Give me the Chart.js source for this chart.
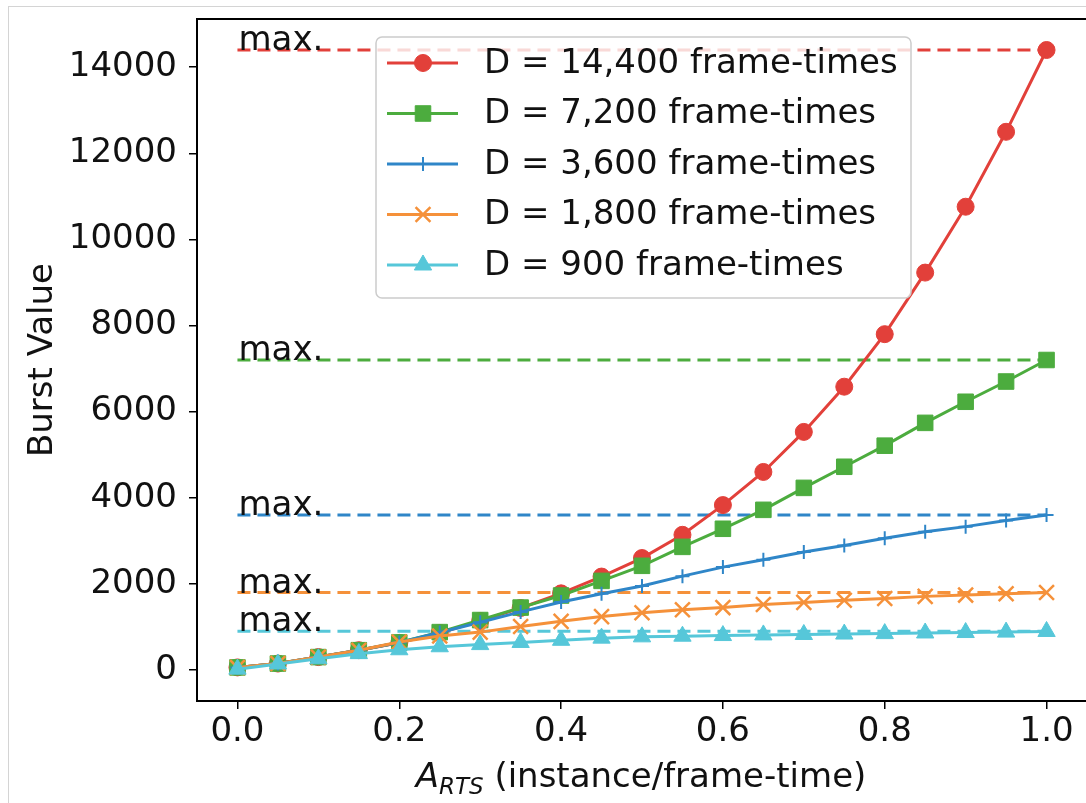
<!DOCTYPE html>
<html>
<head>
<meta charset="utf-8">
<script src="https://cdn.jsdelivr.net/npm/chart.js@4.4.0/dist/chart.umd.min.js"></script>
<style>
  html, body { margin: 0; padding: 0; background: #fff; overflow: hidden; }
  #frame { position: absolute; left: 8px; top: 6px; width: 1100px; height: 820px;
           border-left: 1px solid #d4d4d4; border-top: 1px solid #d4d4d4; }
  #wrap { position: absolute; left: 0; top: 0; width: 1100px; height: 803px; }
</style>
</head>
<body>
<div id="frame"></div>
<div id="wrap"><canvas id="chart" width="1100" height="803"></canvas></div>
<script>
// x values (A_RTS, instance/frame-time)
var xValues = [0, 0.05, 0.1, 0.15, 0.2, 0.25, 0.3, 0.35, 0.4, 0.45, 0.5,
               0.55, 0.6, 0.65, 0.7, 0.75, 0.8, 0.85, 0.9, 0.95, 1.0];

var seriesLabels = ["D = 14,400 frame-times", "D = 7,200 frame-times", "D = 3,600 frame-times",
                    "D = 1,800 frame-times", "D = 900 frame-times"];
var maxValues = [14400, 7200, 3600, 1800, 900];

var burst14400 = [60, 150, 300, 460, 630, 860, 1140, 1440, 1780, 2170, 2600,
                  3140, 3830, 4600, 5530, 6580, 7800, 9230, 10760, 12500, 14400];
var burst7200 = [60, 150, 300, 460, 640, 880, 1160, 1450, 1730, 2070, 2420,
                 2860, 3280, 3720, 4230, 4720, 5210, 5740, 6230, 6700, 7200];
var burst3600 = [60, 150, 300, 460, 640, 870, 1110, 1350, 1580, 1770, 1950,
                 2180, 2390, 2560, 2740, 2890, 3060, 3210, 3330, 3470, 3600];
var burst1800 = [60, 150, 300, 460, 650, 790, 880, 1010, 1130, 1240, 1330,
                 1400, 1450, 1520, 1570, 1620, 1660, 1710, 1740, 1770, 1800];
var burst900 = [20, 140, 260, 380, 470, 540, 590, 640, 690, 740, 770,
                785, 800, 815, 825, 835, 845, 860, 870, 880, 895];

var xTicks = [0, 0.2, 0.4, 0.6, 0.8, 1.0];
var yTicks = [0, 2000, 4000, 6000, 8000, 10000, 12000, 14000];

var FONT = "'DejaVu Sans', sans-serif";
var FS = 34;
var colors = ["#e2403a", "#4cac3e", "#2f86c8", "#f5913a", "#56c7d9"];
var styles = [
  { pointStyle: "circle", radius: 8.5, borderWidth: 1 },
  { pointStyle: "rect", radius: 11, borderWidth: 1 },
  { pointStyle: "cross", radius: 7, borderWidth: 2 },
  { pointStyle: "crossRot", radius: 10.5, borderWidth: 2.5 },
  { pointStyle: "triangle", radius: 10, borderWidth: 1 }
];
var allSeries = [burst14400, burst7200, burst3600, burst1800, burst900];

function toPoints(ys) {
  return xValues.map(function (x, i) { return { x: x, y: ys[i] }; });
}

var datasets = [];
// dashed "max." reference lines
maxValues.forEach(function (m, i) {
  datasets.push({
    label: "max " + m,
    data: [{ x: xValues[0], y: m }, { x: xValues[xValues.length - 1], y: m }],
    borderColor: colors[i],
    borderWidth: 2.8,
    borderDash: [13, 7],
    pointRadius: 0,
    order: 20
  });
});
// burst curves, red drawn first, cyan on top
allSeries.forEach(function (ys, i) {
  datasets.push({
    label: seriesLabels[i],
    data: toPoints(ys),
    borderColor: colors[i],
    backgroundColor: colors[i],
    borderWidth: 3,
    pointStyle: styles[i].pointStyle,
    pointRadius: styles[i].radius,
    pointBorderWidth: styles[i].borderWidth,
    pointBackgroundColor: colors[i],
    pointBorderColor: colors[i],
    order: 10 - i
  });
});

var decorPlugin = {
  id: "decor",
  afterDatasetsDraw: function (chart) {
    var ctx = chart.ctx;
    var xs = chart.scales.x, ys = chart.scales.y;
    var area = chart.chartArea;
    ctx.save();

    // top and right spines
    ctx.strokeStyle = "#000";
    ctx.lineWidth = 2;
    ctx.beginPath();
    ctx.moveTo(area.left, area.top);
    ctx.lineTo(area.right, area.top);
    ctx.lineTo(area.right, area.bottom);
    ctx.stroke();

    // "max." labels
    ctx.fillStyle = "#111";
    ctx.font = FS + "px " + FONT;
    ctx.textAlign = "left";
    ctx.textBaseline = "alphabetic";
    maxValues.forEach(function (m) {
      ctx.fillText("max.", xs.getPixelForValue(xValues[0]) + 1, ys.getPixelForValue(m));
    });

    // legend
    var lx = 376, ly = 37, lw = 535, lh = 261;
    ctx.fillStyle = "rgba(255,255,255,0.8)";
    ctx.strokeStyle = "#cccccc";
    ctx.lineWidth = 1.5;
    ctx.beginPath();
    if (ctx.roundRect) ctx.roundRect(lx, ly, lw, lh, 6); else ctx.rect(lx, ly, lw, lh);
    ctx.fill();
    ctx.stroke();
    seriesLabels.forEach(function (lab, i) {
      var yy = 63 + i * 50.5;
      ctx.strokeStyle = colors[i];
      ctx.lineWidth = 3;
      ctx.setLineDash([]);
      ctx.beginPath();
      ctx.moveTo(387, yy);
      ctx.lineTo(458, yy);
      ctx.stroke();
      ctx.fillStyle = colors[i];
      ctx.lineWidth = styles[i].borderWidth;
      Chart.helpers.drawPoint(ctx, {
        pointStyle: styles[i].pointStyle,
        radius: styles[i].radius,
        rotation: 0,
        borderWidth: styles[i].borderWidth
      }, 423, yy);
      ctx.fillStyle = "#111";
      ctx.font = FS + "px " + FONT;
      ctx.textBaseline = "middle";
      ctx.fillText(lab, 484, yy + 1);
    });

    // x axis title with subscript
    var base = 787;
    var parts = [
      { t: "A", f: "italic " + FS + "px " + FONT, dy: 0 },
      { t: "RTS", f: "italic 23px " + FONT, dy: 7 },
      { t: " (instance/frame-time)", f: FS + "px " + FONT, dy: 0 }
    ];
    var total = 0;
    parts.forEach(function (p) { ctx.font = p.f; p.w = ctx.measureText(p.t).width; total += p.w; });
    var cx = 641 - total / 2;
    ctx.textBaseline = "alphabetic";
    ctx.fillStyle = "#111";
    parts.forEach(function (p) {
      ctx.font = p.f;
      ctx.fillText(p.t, cx, base + p.dy);
      cx += p.w;
    });
    ctx.restore();
  }
};

new Chart(document.getElementById("chart"), {
  type: "line",
  data: { datasets: datasets },
  options: {
    responsive: false,
    animation: false,
    layout: { padding: { left: 0, top: 19, right: 11.5, bottom: 0 } },
    plugins: { legend: { display: false }, tooltip: { enabled: false } },
    scales: {
      x: {
        type: "linear",
        min: -0.05,
        max: 1.05,
        afterBuildTicks: function (s) { s.ticks = xTicks.map(function (v) { return { value: v }; }); },
        afterFit: function (s) { s.height = 102; s.paddingLeft = 0; s.paddingRight = 0; },
        ticks: {
          color: "#111",
          font: { family: FONT, size: FS },
          padding: 3,
          maxRotation: 0,
          callback: function (v) { return v.toFixed(1); }
        },
        grid: { display: true, drawOnChartArea: false, drawTicks: true, tickLength: 8, color: "#000", lineWidth: 1.5 },
        border: { display: true, color: "#000", width: 2 }
      },
      y: {
        min: -720,
        max: 15120,
        afterBuildTicks: function (s) { s.ticks = yTicks.map(function (v) { return { value: v }; }); },
        afterFit: function (s) { s.width = 197; s.paddingTop = 0; s.paddingBottom = 0; },
        ticks: {
          color: "#111",
          font: { family: FONT, size: FS },
          padding: 12,
          callback: function (v) { return String(v); }
        },
        title: {
          display: true,
          text: "Burst Value",
          color: "#111",
          font: { family: FONT, size: FS },
          padding: { top: 23, bottom: 0 }
        },
        grid: { display: true, drawOnChartArea: false, drawTicks: true, tickLength: 8, color: "#000", lineWidth: 1.5 },
        border: { display: true, color: "#000", width: 2 }
      }
    }
  },
  plugins: [decorPlugin]
});
</script>
</body>
</html>
